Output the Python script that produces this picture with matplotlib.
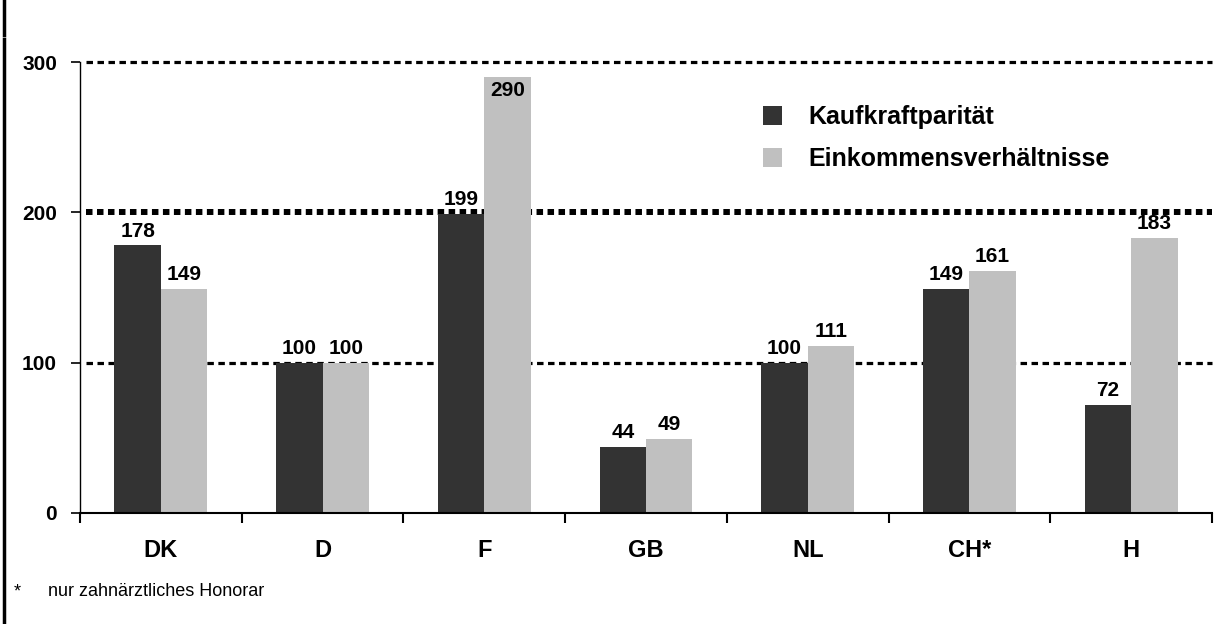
import matplotlib
matplotlib.use("Agg")
import matplotlib.pyplot as plt
from matplotlib.lines import Line2D
import numpy as np

plt.rcParams['font.family'] = ['Liberation Sans', 'DejaVu Sans']

categories = ["DK", "D", "F", "GB", "NL", "CH*", "H"]
kaufkraft = [178, 100, 199, 44, 100, 149, 72]
einkommen = [149, 100, 290, 49, 111, 161, 183]
series_names = ["Kaufkraftparität", "Einkommensverhältnisse"]
yticks = [0, 100, 200, 300]
footnote = "nur zahnärztliches Honorar"

W, H = 1222, 624
fig = plt.figure(figsize=(W / 100, H / 100), dpi=100)
ax = fig.add_axes([80 / W, (H - 513) / H, 1132 / W, 451 / H])

x = np.arange(len(categories))
bw = 0.2875
dark = "#333333"
light = "#c0c0c0"
b1 = ax.bar(x - bw / 2, kaufkraft, bw, color=dark, zorder=3, label=series_names[0])
b2 = ax.bar(x + bw / 2, einkommen, bw, color=light, zorder=3, label=series_names[1])

for bars, vals in ((b1, kaufkraft), (b2, einkommen)):
    for r, v in zip(bars, vals):
        inside = v > 270
        ax.annotate(str(v), (r.get_x() + r.get_width() / 2, v),
                    xytext=(0, -3 if inside else 3.5),
                    textcoords="offset points", ha="center",
                    va="top" if inside else "bottom",
                    fontsize=15, fontweight="bold", zorder=4)

ax.set_xlim(-0.5, len(categories) - 0.5)
ax.set_ylim(0, 300)

# gridlines
for yv in yticks[1:]:
    if yv == 200:
        lw, pat = 4.3, (1.09, 0.75)
    else:
        lw, pat = 2.3, (2.03, 1.41)
    ax.axhline(yv, xmin=6 / 1132, color="black", lw=lw, linestyle=(0, pat),
               dash_capstyle="butt", zorder=1, clip_on=False)

for s in ["top", "right"]:
    ax.spines[s].set_visible(False)
ax.spines["left"].set_linewidth(1.0)
ax.spines["bottom"].set_linewidth(1.5)
ax.spines["bottom"].set_zorder(5)

ax.set_yticks(yticks)
ax.set_yticklabels([str(v) for v in yticks], fontsize=15, fontweight="bold")
ax.tick_params(axis="y", length=6.5, width=1.2, pad=10)

ax.set_xticks(x)
ax.set_xticklabels(categories, fontsize=17, fontweight="bold")
ax.tick_params(axis="x", which="major", length=0, pad=19)
ax.set_xticks(np.arange(-0.5, len(categories)), minor=True)
ax.tick_params(axis="x", which="minor", length=7, width=1.5, direction="out")

leg = ax.legend(loc="upper left", bbox_to_anchor=((763 - 80) / 1132, 1 - (105 - 62) / 451),
                frameon=False, prop={"weight": "bold", "size": 18},
                handlelength=0.76, handleheight=0.76, handletextpad=1.04,
                labelspacing=0.73, borderpad=0, borderaxespad=0)

# footnote
fig.text(14 / W, 1 - 592 / H, "*", fontsize=13, ha="left", va="center")
fig.text(48 / W, 1 - 592 / H, footnote, fontsize=13, ha="left", va="center")

# left frame line with gap
fig.add_artist(Line2D([4 / W, 4 / W], [1, 1 - 35 / H], color="black", lw=2.5,
                      transform=fig.transFigure))
fig.add_artist(Line2D([4 / W, 4 / W], [1 - 39 / H, 0], color="black", lw=2.5,
                      transform=fig.transFigure))

fig.savefig("out.png", dpi=100)
